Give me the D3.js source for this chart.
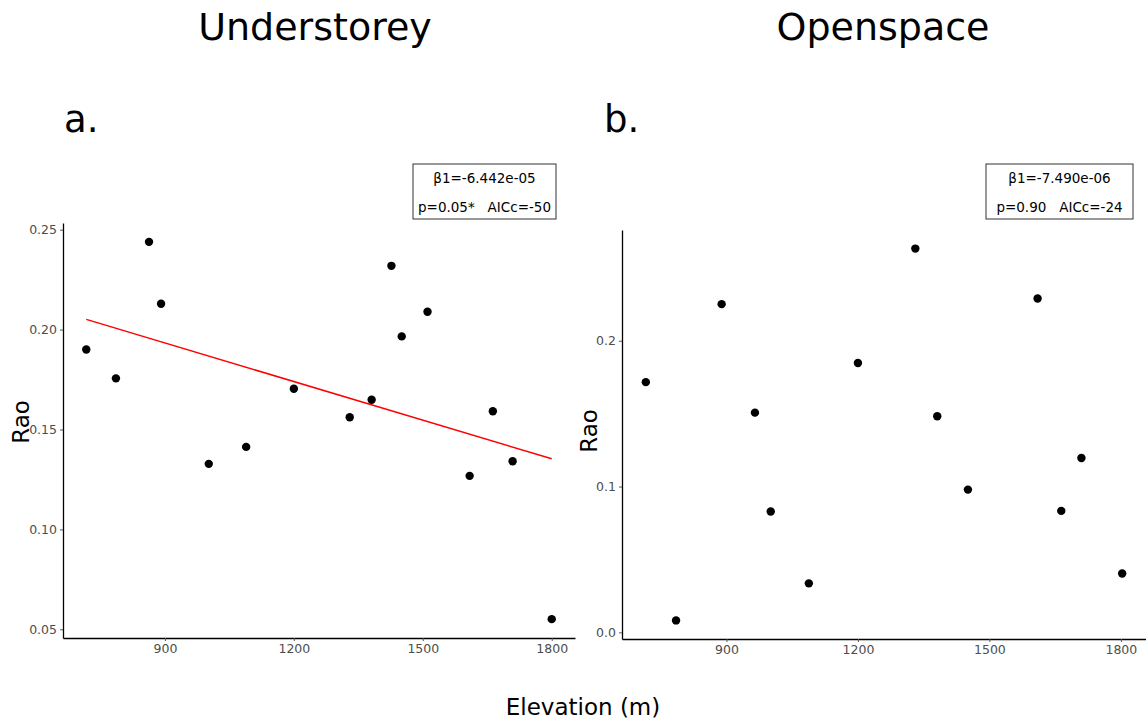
<!DOCTYPE html>
<html><head><meta charset="utf-8">
<script src="https://cdn.jsdelivr.net/npm/d3@7"></script>
<style>body{margin:0;background:#fff}svg{display:block;font-family:"DejaVu Sans",Verdana,sans-serif}</style>
</head><body><svg id="c" width="1146" height="720"></svg>
<script>
// Understorey (panel a)
const underElev = [717, 786, 863, 891, 1002, 1089, 1200, 1330, 1381, 1427, 1451, 1511, 1609, 1663, 1709, 1800];
const underRao  = [0.190, 0.1756, 0.2439, 0.2129, 0.1328, 0.1413, 0.1704, 0.1561, 0.1649, 0.2319, 0.1966, 0.2089, 0.1268, 0.1591, 0.1341, 0.0551];
const underFit  = {intercept: 0.2513, slope: -6.442e-05};
// Openspace (panel b)
const openElev = [716, 785, 889, 965, 1001, 1088, 1200, 1331, 1381, 1451, 1610, 1664, 1710, 1803];
const openRao  = [0.1716, 0.0082, 0.2251, 0.1507, 0.0829, 0.0336, 0.1847, 0.2632, 0.1482, 0.0979, 0.2290, 0.0833, 0.1196, 0.0404];
const xTicks = [900, 1200, 1500, 1800];
const underYTicks = [0.05, 0.10, 0.15, 0.20, 0.25];
const openYTicks = [0.0, 0.1, 0.2];
const titles = ["Understorey", "Openspace"];
const letters = ["a.", "b."];
const stats = [["β1=-6.442e-05", "p=0.05*   AICc=-50"], ["β1=-7.490e-06", "p=0.90   AICc=-24"]];

const svg = d3.select("#c");

function panel(o) {
  const xs = o.elev, ys = o.rao;
  const xe = d3.extent(xs), ye = d3.extent(ys);
  const xp = (xe[1]-xe[0])*0.05, yp = (ye[1]-ye[0])*0.05;
  const x = d3.scaleLinear().domain([xe[0]-xp, xe[1]+xp]).range([o.left, o.right]);
  const y = d3.scaleLinear().domain([ye[0]-yp, ye[1]+yp]).range([o.bottom, o.top]);
  const g = svg.append("g");
  const xa = g.append("g").attr("transform", `translate(0,${o.bottom})`)
    .call(d3.axisBottom(x).tickValues(xTicks).tickSizeInner(3).tickSizeOuter(0).tickPadding(3).tickFormat(d3.format("d")));
  const ya = g.append("g").attr("transform", `translate(${o.left},0)`)
    .call(d3.axisLeft(y).tickValues(o.yTicks).tickSizeInner(3).tickSizeOuter(0).tickPadding(3).tickFormat(d3.format(o.fmt)));
  [xa, ya].forEach(a => {
    a.select(".domain").attr("stroke", "#000").attr("stroke-width", 1.3);
    a.selectAll(".tick line").attr("stroke", "#555").attr("stroke-width", 1);
    a.selectAll(".tick text").attr("fill", "#4d4d4d").style("font-size", "12.5px").style("font-family", "DejaVu Sans");
  });
  if (o.fit) {
    const line = d3.line().x(d => x(d)).y(d => y(o.fit.intercept + o.fit.slope*d));
    g.append("path").attr("d", line(xe)).attr("stroke", "#ff0000").attr("stroke-width", 1.5).attr("fill", "none");
  }
  g.selectAll("circle").data(xs.map((v,i)=>[v, ys[i]])).join("circle")
    .attr("cx", d => x(d[0])).attr("cy", d => y(d[1])).attr("r", 4.2).attr("fill", "#000");
  g.append("text").attr("transform", `translate(${o.ylabX},${o.ylabY}) rotate(-90)`)
    .attr("text-anchor", "middle").style("font-size", "23px").text("Rao");
  svg.append("text").attr("x", o.titleX).attr("y", 40).attr("text-anchor", "middle")
    .style("font-size", "38px").text(o.title);
  svg.append("text").attr("x", o.letterX).attr("y", 132).style("font-size", "37px").text(o.letter);
  svg.append("rect").attr("x", o.boxX).attr("y", 164).attr("width", o.boxW).attr("height", 55)
    .attr("fill", "#fff").attr("stroke", "#333").attr("stroke-width", 1);
  svg.append("text").attr("x", o.boxX + o.boxW/2).attr("y", 183).attr("text-anchor", "middle")
    .style("font-size", "13.5px").text(o.stats[0]);
  svg.append("text").attr("x", o.boxX + o.boxW/2).attr("y", 212).attr("text-anchor", "middle")
    .style("white-space", "pre").attr("xml:space", "preserve")
    .style("font-size", "13.5px").text(o.stats[1]);
}

panel({elev: underElev, rao: underRao, fit: underFit, left: 63, right: 575, top: 223, bottom: 638,
  yTicks: underYTicks, fmt: ".2f", ylabX: 29, ylabY: 422, title: titles[0], titleX: 315,
  letter: letters[0], letterX: 64, stats: stats[0], boxX: 413, boxW: 143});
panel({elev: openElev, rao: openRao, fit: null, left: 622, right: 1146, top: 230, bottom: 639,
  yTicks: openYTicks, fmt: ".1f", ylabX: 597, ylabY: 431, title: titles[1], titleX: 883,
  letter: letters[1], letterX: 604, stats: stats[1], boxX: 986, boxW: 147});

svg.append("text").attr("x", 583).attr("y", 715).attr("text-anchor", "middle")
  .style("font-size", "23px").text("Elevation (m)");
</script></body></html>
